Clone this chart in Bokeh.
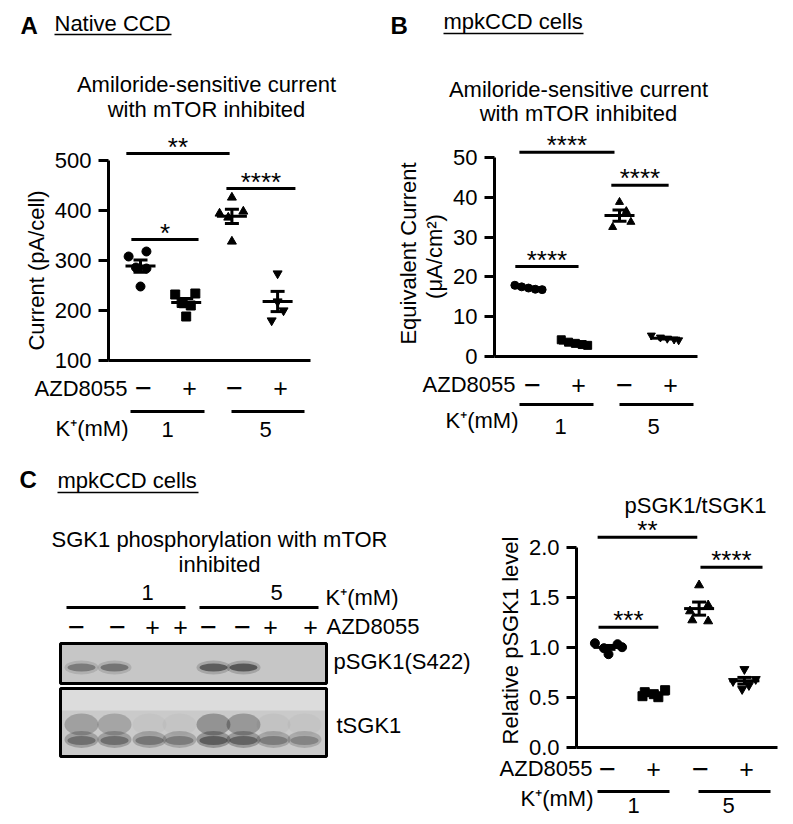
import numpy as np
from bokeh.plotting import figure
from bokeh.models import LinearAxis, FixedTicker, Range1d, PrintfTickFormatter
from bokeh.layouts import column, row
from bokeh.core.properties import value
from bokeh.embed import file_html
from bokeh.resources import INLINE

FONT = "Liberation Sans"

# ---------------- data ----------------
azd_labels = ["\u2212", "+", "\u2212", "+"]          # AZD8055 per group
k_groups = ["1", "5"]                                 # K+ (mM)
markers = ["circle", "square", "triangle", "inverted_triangle"]

# A: Native CCD, amiloride-sensitive current (pA/cell)
a_k1_ctrl = [308, 318, 248, 286, 284]
a_k1_azd = [232, 234, 188, 215, 210]
a_k5_ctrl = [426, 338, 394, 398, 386]
a_k5_azd = [274, 180, 200, 218]
a_ticks = [100, 200, 300, 400, 500]

# B: mpkCCD cells, equivalent current (uA/cm2)
b_k1_ctrl = [17.9, 17.5, 17.2, 16.9, 16.8]
b_k1_azd = [4.2, 3.6, 3.3, 3.0, 2.8]
b_k5_ctrl = [38.8, 36.5, 33.8, 32.5]
b_k5_azd = [5.3, 4.8, 4.5, 4.3, 4.1]
b_ticks = [0, 10, 20, 30, 40, 50]

# C: relative pSGK1 level
c_k1_ctrl = [1.04, 1.03, 1.00, 0.99, 0.93]
c_k1_azd = [0.57, 0.55, 0.53, 0.51, 0.50]
c_k5_ctrl = [1.62, 1.42, 1.36, 1.27, 1.26]
c_k5_azd = [0.78, 0.68, 0.66, 0.62, 0.58]
c_ticks = [0.0, 0.5, 1.0, 1.5, 2.0]

# western blot (8 lanes)
blot_k = ["1", "5"]
blot_azd = ["\u2212", "\u2212", "+", "+", "\u2212", "\u2212", "+", "+"]
psgk1_band = [0.55, 0.6, 0.0, 0.0, 0.8, 0.85, 0.0, 0.0]
tsgk1_upper = [0.45, 0.40, 0.06, 0.06, 0.60, 0.55, 0.08, 0.06]
tsgk1_lower = [0.60, 0.60, 0.55, 0.50, 0.75, 0.70, 0.50, 0.45]

# significance bars: (label, x_start, x_end, y) in category / data units
a_sig = [("**", 0.69, 2.95, 514), ("****", 2.88, 4.39, 444), ("*", 0.80, 2.27, 342)]
b_sig = [("****", 0.80, 2.89, 51.3), ("****", 2.82, 4.08, 43.0), ("****", 0.71, 2.10, 22.6)]
c_sig = [("**", 0.76, 2.96, 2.10), ("****", 3.03, 4.40, 1.80), ("***", 0.78, 2.10, 1.20)]

# horizontal spread of points within each group (category units)
a_jit = [[-0.26, 0.13, 0.0, -0.1, 0.13], [-0.24, 0.2, 0.0, -0.1, 0.1],
         [0.0, 0.0, -0.27, 0.25, -0.08], [0.0, -0.13, 0.13, 0.0]]
b_jit = [[-0.3, -0.15, 0.0, 0.15, 0.3], [-0.28, -0.12, 0.03, 0.18, 0.3],
         [0.0, 0.15, 0.25, -0.15], [-0.3, -0.1, 0.05, 0.2, 0.3]]
c_jit = [[-0.3, 0.2, 0.3, -0.1, 0.0], [0.25, -0.2, 0.0, -0.25, 0.1],
         [0.0, 0.2, -0.2, -0.15, 0.2], [0.0, 0.25, -0.25, 0.1, -0.05]]

MID = 0.35  # em offset from alphabetic baseline to text middle


class Panel:
    """A figure whose frame fills the whole panel; (cx, sx) map category 1 / px per unit,
    (py0, v0, sy) map data value v0 to page pixel py0 with sy px per unit."""
    def __init__(self, left, top, width, height, cx, sx, py0, v0, sy):
        self.cx, self.sx, self.py0, self.v0, self.sy = cx, sx, py0, v0, sy
        p = figure(width=width, height=height,
                   x_range=Range1d(self.X(left), self.X(left + width)),
                   y_range=Range1d(self.Y(top + height), self.Y(top)),
                   output_backend="svg", toolbar_location=None, min_border=0,
                   x_axis_location=None, y_axis_location=None,
                   outline_line_color=None, background_fill_color="white",
                   border_fill_color="white")
        p.grid.grid_line_color = None
        self.fig = p

    def X(self, px):
        return 1 + (px - self.cx) / self.sx

    def Y(self, py):
        return self.v0 + (self.py0 - py) / self.sy

    def text(self, px, py, s, size=22, align="center", base=True,
             bold=False, angle=0.0):
        # py is the alphabetic baseline unless base=False (then py is the middle)
        ym = py - MID * size if base else py
        self.fig.text(x=[self.X(px)], y=[self.Y(ym)], text=[s],
                      text_font=value(FONT), text_font_size=value(f"{size}px"),
                      text_align=value(align), text_baseline=value("middle"),
                      text_font_style=value("bold" if bold else "normal"),
                      angle=angle, text_color="black")

    def hline(self, px0, px1, py, w=3):
        self.fig.segment(x0=[self.X(px0)], y0=[self.Y(py)], x1=[self.X(px1)], y1=[self.Y(py)],
                         line_color="black", line_width=w)


def pm(P, px, py, s):
    if s == "+":
        P.text(px, py, s, size=25, base=False)
    else:
        P.text(px, py, s, size=29, base=False)


def axes(P, yaxis_px, xend_px, ticks, fmt=None):
    yax = LinearAxis(fixed_location=P.X(yaxis_px), bounds=(ticks[0], ticks[-1]),
                     ticker=FixedTicker(ticks=ticks),
                     axis_line_width=3, axis_line_color="black",
                     major_tick_line_width=3, major_tick_line_color="black",
                     major_tick_out=10, major_tick_in=0,
                     minor_tick_line_color=None,
                     major_label_text_font=FONT, major_label_text_font_size="22px",
                     major_label_text_color="black", major_label_standoff=7)
    if fmt:
        yax.formatter = PrintfTickFormatter(format=fmt)
    P.fig.add_layout(yax, "left")
    xax = LinearAxis(fixed_location=ticks[0], bounds=(P.X(yaxis_px), P.X(xend_px)),
                     ticker=FixedTicker(ticks=[]),
                     axis_line_width=3, axis_line_color="black",
                     major_tick_line_color=None, minor_tick_line_color=None,
                     major_label_text_font_size="0px")
    P.fig.add_layout(xax, "below")


def dots(P, groups, jit, size):
    mw, cw = 15 / P.sx, 7 / P.sx
    for i, (vals, offs, mk) in enumerate(zip(groups, jit, markers)):
        c = i + 1
        P.fig.scatter([c + o for o in offs], vals, marker=mk, size=size,
                      fill_color="black", line_color="black")
        m = float(np.mean(vals))
        s = float(np.std(vals, ddof=1) / np.sqrt(len(vals)))
        P.fig.segment(x0=[c - mw, c, c - cw, c - cw], y0=[m, m - s, m + s, m - s],
                      x1=[c + mw, c, c + cw, c + cw], y1=[m, m + s, m + s, m - s],
                      line_color="black", line_width=3)


def sig(P, items):
    for lab, x0, x1, y in items:
        P.fig.segment(x0=[x0], y0=[y], x1=[x1], y1=[y], line_color="black", line_width=3)
        P.fig.text(x=[(x0 + x1) / 2], y=[y], text=[lab], text_font=value(FONT),
                   text_font_size=value("26px"), text_align=value("center"),
                   text_baseline=value("middle"), y_offset=-7, text_color="black")


def bottom_labels(P, sym_px, sym_py, azd_right, azd_base, lines, line_py,
                  k_right, k_base, num_px, num_base):
    P.text(azd_right, azd_base, "AZD8055", align="right")
    for px, s in zip(sym_px, azd_labels):
        pm(P, px, sym_py, s)
    for (a, b) in lines:
        P.hline(a, b, line_py)
    P.text(k_right, k_base, "K\u207a(mM)", align="right")
    for px, s in zip(num_px, k_groups):
        P.text(px, num_base, s)


# ---------------- Panel A ----------------
A = Panel(0, 0, 385, 450, cx=140, sx=45.7, py0=360, v0=100, sy=0.5)
A.text(20, 33, "A", size=24, bold=True, align="left")
A.text(54, 31, "Native CCD", align="left")
A.hline(54, 171, 34, w=1.5)
A.text(206, 92, "Amiloride-sensitive current")
A.text(206, 117, "with mTOR inhibited")
A.text(36, 270, "Current (pA/cell)", base=False, angle=np.pi / 2)
axes(A, 108, 310, a_ticks)
dots(A, [a_k1_ctrl, a_k1_azd, a_k5_ctrl, a_k5_azd], a_jit, 9)
sig(A, a_sig)
bottom_labels(A, [143, 189, 234, 280], 387, 127, 396, [(130, 204), (231, 304)], 411,
              128, 436, [167, 265], 437)

# ---------------- Panel B ----------------
B = Panel(385, 0, 408, 450, cx=528, sx=45.5, py0=356, v0=0, sy=3.98)
B.text(390, 33, "B", size=24, bold=True, align="left")
B.text(443, 29, "mpkCCD cells", align="left")
B.hline(443, 583, 33, w=1.5)
B.text(578, 97, "Amiloride-sensitive current")
B.text(578, 121, "with mTOR inhibited")
B.text(408, 253, "Equivalent Current", base=False, angle=np.pi / 2)
B.text(434, 256, "(\u03bcA/cm\u00b2)", base=False, angle=np.pi / 2)
axes(B, 494, 697, b_ticks)
dots(B, [b_k1_ctrl, b_k1_azd, b_k5_ctrl, b_k5_azd], b_jit, 8)
sig(B, b_sig)
bottom_labels(B, [532, 578, 624, 670], 384, 515, 392, [(519, 593), (619, 693)], 404,
              518, 428, [560, 653], 434)

# ---------------- Panel C (blot) ----------------
C1 = Panel(0, 450, 494, 374, cx=1, sx=1, py0=0, v0=0, sy=1)
C1.text(19, 487, "C", size=24, bold=True, align="left")
C1.text(57, 488, "mpkCCD cells", align="left")
C1.hline(57, 198, 492, w=1.5)
C1.text(219, 547, "SGK1 phosphorylation with mTOR")
C1.text(219, 572, "inhibited")
for px, s in zip([147, 276], blot_k):
    C1.text(px, 600, s)
C1.hline(66, 185, 607)
C1.hline(199, 318, 607)
C1.text(325, 605, "K\u207a(mM)", align="left")
for px, s in zip([76, 117, 152, 180, 208, 242, 270, 310], blot_azd):
    pm(C1, px, 626, s)
C1.text(326, 634, "AZD8055", align="left")

lane_px = [81, 114, 149, 179, 213, 243, 273, 304]
f = C1.fig
# pSGK1 blot
f.quad(left=[C1.X(60)], right=[C1.X(326)], top=[C1.Y(643)], bottom=[C1.Y(683)],
       fill_color="#c6c6c6", line_color=None)
for lx, it in zip(lane_px, psgk1_band):
    if it > 0:
        f.ellipse(x=[C1.X(lx)], y=[C1.Y(667)], width=34, height=14,
                  fill_color="black", fill_alpha=it * 0.2, line_color=None)
        f.ellipse(x=[C1.X(lx)], y=[C1.Y(667)], width=28, height=8,
                  fill_color="black", fill_alpha=it * 0.55, line_color=None)
f.quad(left=[C1.X(60)], right=[C1.X(326)], top=[C1.Y(643)], bottom=[C1.Y(683)],
       fill_color=None, line_color="black", line_width=3)
C1.text(333, 669, "pSGK1(S422)", align="left")
# tSGK1 blot
f.quad(left=[C1.X(60)], right=[C1.X(326)], top=[C1.Y(688)], bottom=[C1.Y(756)],
       fill_color="#dcdcdc", line_color=None)
f.quad(left=[C1.X(60)], right=[C1.X(326)], top=[C1.Y(710)], bottom=[C1.Y(756)],
       fill_color="black", fill_alpha=0.08, line_color=None)
for lx, up, lo in zip(lane_px, tsgk1_upper, tsgk1_lower):
    f.ellipse(x=[C1.X(lx)], y=[C1.Y(724)], width=34, height=22,
              fill_color="black", fill_alpha=up * 0.45, line_color=None)
    f.ellipse(x=[C1.X(lx)], y=[C1.Y(739)], width=34, height=17,
              fill_color="black", fill_alpha=lo * 0.35, line_color=None)
    f.ellipse(x=[C1.X(lx)], y=[C1.Y(740)], width=28, height=9,
              fill_color="black", fill_alpha=lo * 0.5, line_color=None)
f.quad(left=[C1.X(60)], right=[C1.X(326)], top=[C1.Y(688)], bottom=[C1.Y(756)],
       fill_color=None, line_color="black", line_width=3)
C1.text(336, 733, "tSGK1", align="left")

# ---------------- Panel C (chart) ----------------
C2 = Panel(494, 450, 299, 374, cx=608, sx=45.3, py0=746.7, v0=0, sy=100)
C2.text(695, 513, "pSGK1/tSGK1")
C2.text(510, 640, "Relative pSGK1 level", base=False, angle=np.pi / 2)
axes(C2, 576, 777, c_ticks, fmt="%.1f")
dots(C2, [c_k1_ctrl, c_k1_azd, c_k5_ctrl, c_k5_azd], c_jit, 9)
sig(C2, c_sig)
bottom_labels(C2, [607, 653, 700, 746], 768, 592, 776, [(597, 669), (698, 770)], 791,
              593, 806, [633, 728], 813)

layout = column(row(A.fig, B.fig), row(C1.fig, C2.fig))
open("out.html", "w").write(file_html(layout, INLINE))
